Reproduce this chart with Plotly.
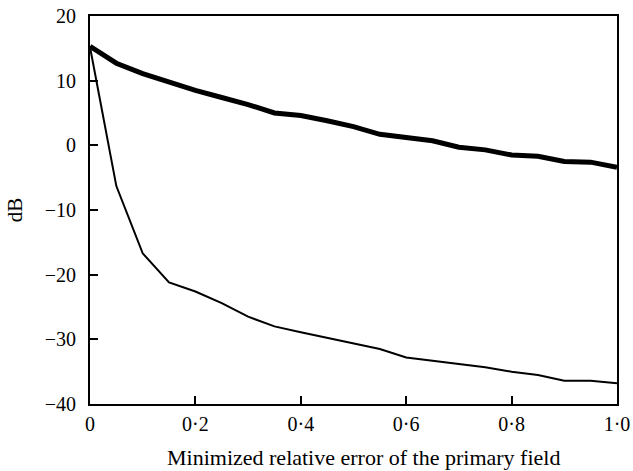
import plotly.graph_objects as go

x_vals = [0.0, 0.05, 0.1, 0.15, 0.2, 0.25, 0.3, 0.35, 0.4, 0.45, 0.5,
          0.55, 0.6, 0.65, 0.7, 0.75, 0.8, 0.85, 0.9, 0.95, 1.0]
thick_db = [15.3, 12.7, 11.1, 9.7, 8.5, 7.4, 6.3, 5.0, 4.6, 3.8, 2.9,
            1.7, 1.2, 0.7, -0.3, -0.7, -1.5, -1.7, -2.5, -2.6, -3.4]
thin_db = [15.2, -6.3, -16.7, -21.2, -22.6, -24.4, -26.5, -28.0, -28.9, -29.8, -30.6,
           -31.5, -32.8, -33.3, -33.7, -34.3, -35.0, -35.5, -36.4, -36.4, -36.8]

x_tickvals = [0, 0.2, 0.4, 0.6, 0.8, 1.0]
x_ticktext = ["0", "0·2", "0·4", "0·6", "0·8", "1·0"]
y_tickvals = [-40, -30, -20, -10, 0, 10, 20]
y_ticktext = ["−40", "−30", "−20", "−10", "0", "10", "20"]
x_title = "Minimized relative error of the primary field"
y_title = "dB"

fig = go.Figure()
fig.add_trace(go.Scatter(x=x_vals, y=thick_db, mode="lines",
                         line=dict(color="black", width=5), showlegend=False))
fig.add_trace(go.Scatter(x=x_vals, y=thin_db, mode="lines",
                         line=dict(color="black", width=2), showlegend=False))

font = dict(family="Liberation Serif", size=20, color="black")
fig.update_layout(
    width=633, height=471,
    margin=dict(l=90, r=16, t=16, b=67),
    paper_bgcolor="white", plot_bgcolor="white",
    font=font,
    xaxis=dict(range=[0, 1.0], tickvals=x_tickvals, ticktext=x_ticktext,
               ticks="inside", ticklen=8, tickwidth=1.5, tickcolor="black",
               showline=True, linewidth=2, linecolor="black", mirror=True,
               showgrid=False, zeroline=False, automargin=False,
               ticklabelstandoff=1),
    yaxis=dict(range=[-40, 20], tickvals=y_tickvals, ticktext=y_ticktext,
               ticks="inside", ticklen=8, tickwidth=1.5, tickcolor="black",
               showline=True, linewidth=2, linecolor="black", mirror=True,
               showgrid=False, zeroline=False, automargin=False,
               ticklabelstandoff=8),
    annotations=[
        dict(text=x_title, xref="paper", yref="paper", x=0.519, y=-0.139,
             xanchor="center", yanchor="middle", showarrow=False,
             font=dict(family="Liberation Serif", size=22, color="black")),
        dict(text=y_title, xref="paper", yref="paper", x=-0.142, y=0.5,
             xanchor="center", yanchor="middle", showarrow=False, textangle=-90,
             font=dict(family="Liberation Serif", size=21, color="black")),
    ],
)
fig.write_html("out.html")
